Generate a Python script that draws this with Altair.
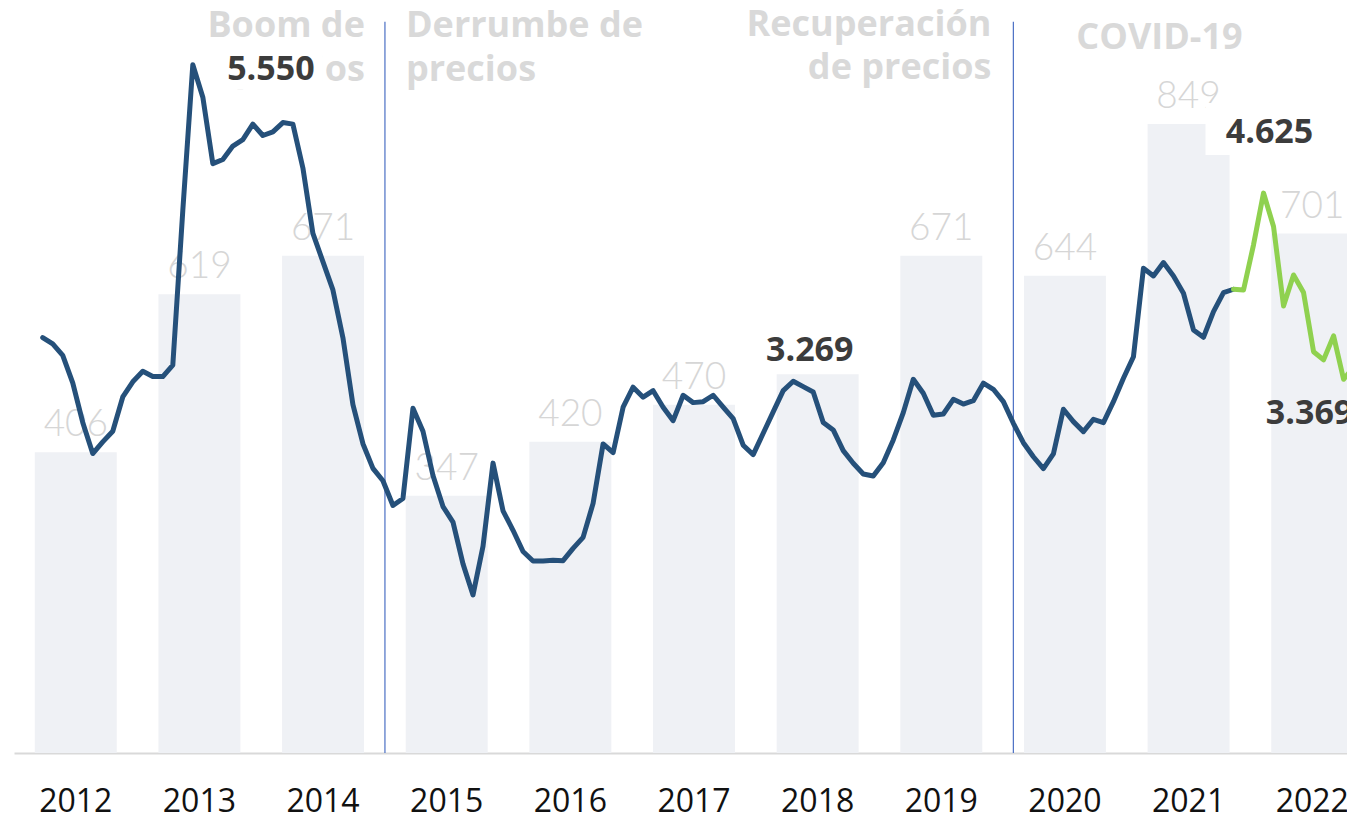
import altair as alt
import pandas as pd

# ---------------- data ----------------
anios = ["2012", "2013", "2014", "2015", "2016", "2017", "2018", "2019", "2020", "2021", "2022"]
produccion = [406, 619, 671, 347, 420, 470, 511, 671, 644, 849, 701]

precios = [
    3583, 3538, 3456, 3257, 2972, 2748, 2832, 2909, 3156, 3265, 3341, 3303,
    3303, 3385, 4500, 5550, 5316, 4837, 4867, 4964, 5010, 5122, 5040, 5066,
    5133, 5122, 4806, 4335, 4131, 3927, 3583, 3100, 2819, 2641, 2552, 2374,
    2424, 3074, 2909, 2590, 2366, 2254, 1953, 1729, 2080, 2679, 2335, 2195,
    2042, 1974, 1974, 1979, 1976, 2065, 2144, 2389, 2817, 2754, 3082, 3226,
    3154, 3201, 3082, 2985, 3168, 3115, 3122, 3168, 3082, 2999, 2808, 2740,
    2894, 3048, 3201, 3269, 3230, 3192, 2972, 2918, 2769, 2678, 2601, 2586,
    2682, 2846, 3043, 3283, 3182, 3024, 3033, 3139, 3105, 3129, 3255, 3211,
    3122, 2966, 2826, 2725, 2639, 2745, 3067, 2978, 2906, 2995, 2971, 3122,
    3291, 3446, 4084, 4028, 4124, 4028, 3903, 3639, 3586, 3771, 3908, 3932,
    3927, 4252, 4625, 4384, 3812, 4035, 3908, 3482, 3423, 3596, 3283, 3369,
]
n_azul = 120  # months 0..119 blue, from 119 on green

etiquetas = ["5.550", "3.269", "4.625", "3.369"]
etiq_mes = [22.8, 76.65, 122.6, 126.6]
etiq_val = [5513, 3487, 5059, 3033]

cajas_mes0 = [17.9, 71.6, 116.2]
cajas_mes1 = [28.0, 81.6, 128.6]
cajas_v0 = [5369, 3329, 4900]
cajas_v1 = [5643, 3653, 5275]

titulos_der = ["Boom de", "precios", "Recuperación", "de precios"]
titulos_der_mes = [32.2, 32.2, 94.8, 94.8]
titulos_der_val = [5830, 5513, 5838, 5528]
titulos_izq = ["Derrumbe de", "precios"]
titulos_izq_mes = [36.3, 36.3]
titulos_izq_val = [5830, 5513]
titulos_cen = ["COVID-19"]
titulos_cen_mes = [111.6]
titulos_cen_val = [5745]

divisiones = [34.2, 97.0]
div_top = 5859

# ---------------- tables ----------------
df_bar = pd.DataFrame({"anio": anios, "valor": produccion})
rows = []
for i, v in enumerate(precios):
    if i < n_azul:
        rows.append({"mes": i, "precio": v, "serie": "a"})
    if i >= n_azul - 1:
        rows.append({"mes": i, "precio": v, "serie": "b"})
df_line = pd.DataFrame(rows)
df_etq = pd.DataFrame({"t": etiquetas, "mes": etiq_mes, "val": etiq_val})
df_caja = pd.DataFrame({"m0": cajas_mes0, "m1": cajas_mes1, "v0": cajas_v0, "v1": cajas_v1})
df_der = pd.DataFrame({"t": titulos_der, "mes": titulos_der_mes, "val": titulos_der_val})
df_izq = pd.DataFrame({"t": titulos_izq, "mes": titulos_izq_mes, "val": titulos_izq_val})
df_cen = pd.DataFrame({"t": titulos_cen, "mes": titulos_cen_mes, "val": titulos_cen_val})
df_div = pd.DataFrame({"mes": divisiones, "v0": [590] * len(divisiones), "v1": [div_top] * len(divisiones)})

# ---------------- scales ----------------
XR = [0, 1360]
xband = alt.Scale(domain=anios, paddingInner=0.337, paddingOuter=0.168, range=XR)
ybar = alt.Scale(domain=[0, 1000], nice=False, zero=True)
xmes = alt.Scale(domain=[-2.87, 133.04], nice=False, zero=False, range=XR)
yprec = alt.Scale(domain=[590, 5930], nice=False, zero=False)

bars = alt.Chart(df_bar).mark_bar(color="#eff1f5").encode(
    x=alt.X("anio:N", scale=xband, sort=anios, title=None,
            axis=alt.Axis(labelAngle=0, labelFont="Open Sans", labelFontSize=32,
                          labelColor="#111111", labelPadding=33, ticks=False,
                          domainColor="#d9d9d9", domainWidth=2, grid=False)),
    y=alt.Y("valor:Q", scale=ybar, axis=None),
)
bar_lbl = alt.Chart(df_bar).mark_text(
    font="Lato", fontWeight=300, fontSize=37, color="#d6d6d6",
    baseline="alphabetic", dy=-16, align="center",
).encode(
    x=alt.X("anio:N", scale=xband, sort=anios, axis=None),
    y=alt.Y("valor:Q", scale=ybar, axis=None),
    text="valor:Q",
)

def hdr(df, align):
    return alt.Chart(df).mark_text(
        font="Open Sans", fontWeight="bold", fontSize=36, color="#d9d9d9",
        align=align, baseline="middle",
    ).encode(
        x=alt.X("mes:Q", scale=xmes, axis=None),
        y=alt.Y("val:Q", scale=yprec, axis=None),
        text="t:N",
    )

cajas = alt.Chart(df_caja).mark_rect(color="white").encode(
    x=alt.X("m0:Q", scale=xmes, axis=None), x2="m1:Q",
    y=alt.Y("v0:Q", scale=yprec, axis=None), y2="v1:Q",
)

divs = alt.Chart(df_div).mark_rule(color="#4a6fc4", strokeWidth=1.2).encode(
    x=alt.X("mes:Q", scale=xmes, axis=None),
    y=alt.Y("v0:Q", scale=yprec, axis=None), y2="v1:Q",
)

linea = alt.Chart(df_line).mark_line(strokeWidth=5, strokeCap="round", strokeJoin="round").encode(
    x=alt.X("mes:Q", scale=xmes, axis=None),
    y=alt.Y("precio:Q", scale=yprec, axis=None),
    color=alt.Color("serie:N", scale=alt.Scale(domain=["a", "b"], range=["#25507a", "#8fd14f"]), legend=None),
    order="mes:Q",
)

etq = alt.Chart(df_etq).mark_text(
    font="Open Sans", fontWeight="bold", fontSize=34, color="#3c3c3c",
    align="center", baseline="middle",
).encode(
    x=alt.X("mes:Q", scale=xmes, axis=None),
    y=alt.Y("val:Q", scale=yprec, axis=None),
    text="t:N",
)

chart = alt.layer(
    bars, bar_lbl, hdr(df_der, "right"), hdr(df_izq, "left"), hdr(df_cen, "center"),
    cajas, divs, linea, etq,
).resolve_scale(x="independent", y="independent", color="independent").properties(
    width=1333, height=741,
    padding={"left": 6, "top": 4, "right": 0, "bottom": 60},
    autosize=alt.AutoSizeParams(type="none"),
).configure_view(stroke=None)

chart.save("out.html", embed_options={"renderer": "svg", "actions": False})
